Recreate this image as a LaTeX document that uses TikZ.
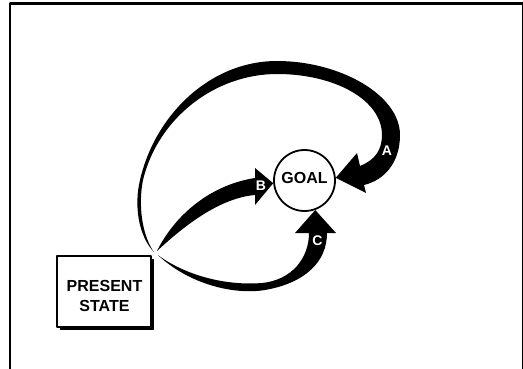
\documentclass[tikz,border=0pt]{standalone}
\usepackage{fontspec}
\setmainfont{Liberation Sans}
\usetikzlibrary{calc,shadows}
\tikzset{
  frameline/.style={line width=2.2pt},
  goalnode/.style={circle, draw, line width=1.8pt, minimum size=61pt, inner sep=0pt, fill=white},
  psbox/.style={draw, line width=1.8pt, fill=white, minimum width=94pt, minimum height=71pt, inner sep=0pt,
    drop shadow={shadow xshift=3pt, shadow yshift=-3pt, opacity=1, fill=black}},
  bigtext/.style={font=\bfseries\fontsize{16}{18}\selectfont, inner sep=0pt},
  lbl/.style={text=white, font=\bfseries\fontsize{14}{14}\selectfont, inner sep=0pt},
  fatarrow/.style={fill=black}
}
\begin{document}
\begin{tikzpicture}[x=1pt,y=-1pt,line join=round]
\useasboundingbox (0,0) rectangle (523,369);
\fill[white] (0,0) rectangle (523,369);
% frame
\draw[frameline] (9.7,369) -- (9.7,3.5) -- (523,3.5);
\draw[line width=1pt] (522.5,3.5) -- (522.5,369);

% nodes
\node[psbox] (ps) at (104,291.5) {};
\node[bigtext] (t1) at (104.5,285.5) {PRESENT};
\node[bigtext] (t2) at (104.5,305.5) {STATE};
\node[goalnode] (goal) at (304.5,180.5) {};
\node[bigtext] (gt) at (304.5,177.8) {GOAL};

\coordinate (srcA) at ($(ps.north east)+(2,-3)$);
\coordinate (srcB) at ($(ps.north east)+(5,-4)$);
\coordinate (srcC) at ($(ps.north east)+(6,0)$);
\coordinate (tipA) at (goal.5);
\coordinate (tipB) at (goal.185);
\coordinate (tipC) at (goal.-70);

% arrow A
\fill[fatarrow] (srcA) .. controls (138,235) and (134,205) .. (140,180)
 .. controls (155,115) and (210,61) .. (277,61)
 .. controls (340,61) and (400,95) .. (400,135)
 .. controls (400,162) and (385,180) .. (364,185)
 -- (366,193) -- (tipA) -- (357,153) -- (360,166)
 .. controls (375,160) and (382,150) .. (382,135)
 .. controls (382,100) and (335,74) .. (277,74)
 .. controls (215,74) and (158,118) .. (143,180)
 .. controls (138,205) and (142,235) .. (srcA) -- cycle;

% arrow B
\fill[fatarrow] (srcB) .. controls (175,215) and (210,185) .. (255,178)
 -- (255,168) -- (tipB) -- (255,205) -- (255,195)
 .. controls (220,198) and (185,225) .. (srcB) -- cycle;

% arrow C
\fill[fatarrow] (srcC) .. controls (190,285) and (235,295) .. (265,290)
 .. controls (305,283) and (327,262) .. (327,233)
 -- (336,233) -- (tipC) -- (295,233) -- (309,233)
 .. controls (309,258) and (292,280) .. (262,283)
 .. controls (225,286) and (185,275) .. (srcC) -- cycle;

\node[lbl] (la) at (387,151) {A};
\node[lbl] (lb) at (261,186) {B};
\node[lbl] (lc) at (317.5,240.5) {C};
\end{tikzpicture}
\end{document}
